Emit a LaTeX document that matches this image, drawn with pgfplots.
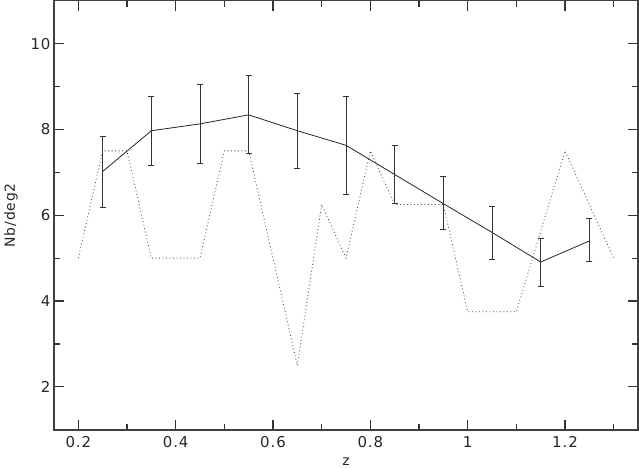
\documentclass[border=0pt]{standalone}
\usepackage{pgfplots}
\pgfplotsset{compat=1.18}
\usepackage{fontspec}
\setmainfont{DejaVu Sans}
\newfontfamily\tickfont[LetterSpace=6]{DejaVu Sans}
\begin{document}
\begin{tikzpicture}
\begin{axis}[
  scale only axis, width=584bp, height=429bp,
  xmin=0.15, xmax=1.35, ymin=1, ymax=11,
  xtick={0.2,0.4,0.6,0.8,1,1.2}, xticklabels={0.2,0.4,0.6,0.8,1,1.2},
  minor xtick={0.3,0.5,0.7,0.9,1.1,1.3},
  ytick={2,4,6,8,10}, yticklabels={2,4,6,8,10},
  minor ytick={3,5,7,9},
  tick align=inside, major tick length=10bp, minor tick length=6bp,
  tick style={line width=1.1bp, black!80},
  axis line style={line width=1.5bp, black!75},
  ticklabel style={font=\tickfont\fontsize{15}{17}\selectfont, black!85},
  xticklabel style={yshift=-3bp},
  xlabel={z}, ylabel={Nb/deg2},
  label style={font=\tickfont\fontsize{14}{16}\selectfont, black!85},
  xlabel style={yshift=-3bp},
  ylabel style={yshift=6bp},
]
\addplot[black!85, line width=0.8bp,
  error bars/.cd, y dir=both, y explicit,
  error bar style={line width=0.9bp, black!80},
  error mark options={rotate=90, mark size=3bp, line width=0.9bp, black!80}]
coordinates {
 (0.25,7.02) += (0,0.82) -= (0,0.84)
 (0.35,7.97) += (0,0.80) -= (0,0.80)
 (0.45,8.13) += (0,0.92) -= (0,0.93)
 (0.55,8.34) += (0,0.91) -= (0,0.89)
 (0.65,7.97) += (0,0.88) -= (0,0.89)
 (0.75,7.63) += (0,1.14) -= (0,1.15)
 (0.85,6.95) += (0,0.68) -= (0,0.68)
 (0.95,6.27) += (0,0.64) -= (0,0.60)
 (1.05,5.60) += (0,0.61) -= (0,0.62)
 (1.15,4.91) += (0,0.56) -= (0,0.58)
 (1.25,5.40) += (0,0.52) -= (0,0.48)
};
\addplot[black!70, line width=0.8bp, dash pattern=on 0.9bp off 2.6bp]
coordinates {
 (0.20,5.0) (0.25,7.5) (0.30,7.5) (0.35,5.0) (0.45,5.0) (0.50,7.5)
 (0.55,7.5) (0.65,2.5) (0.70,6.25) (0.75,5.0) (0.80,7.5) (0.85,6.25)
 (0.95,6.25) (1.00,3.75) (1.10,3.75) (1.20,7.5) (1.30,5.0)
};
\end{axis}
\pgfresetboundingbox
\path ([xshift=-54bp,yshift=-38bp]current axis.south west) rectangle ([xshift=1bp,yshift=0.75bp]current axis.north east);
\end{tikzpicture}
\end{document}
